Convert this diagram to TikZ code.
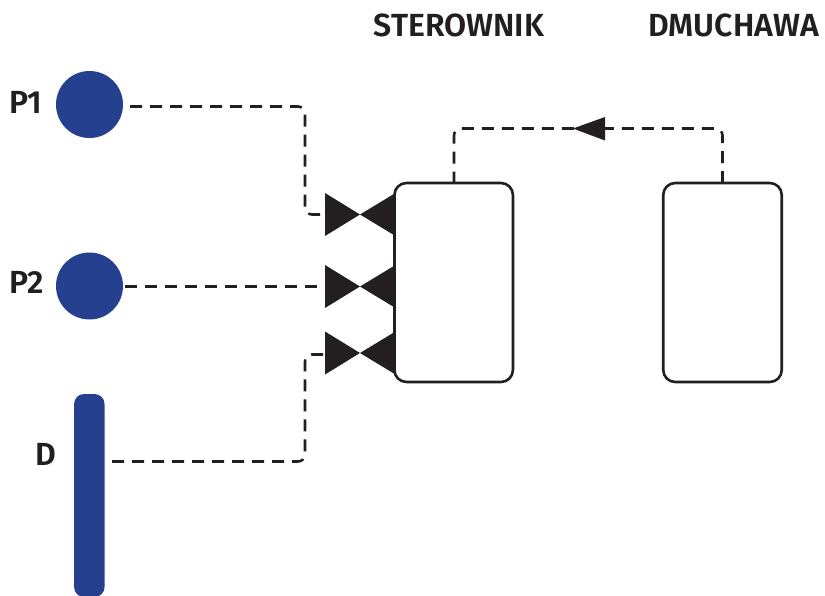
\documentclass[tikz,border=0pt]{standalone}
\usepackage{fontspec}
\setmainfont[BoldFont={Fira Sans SemiBold}]{Fira Sans}
\usetikzlibrary{calc}
\definecolor{ink}{HTML}{231F20}
\definecolor{navy}{HTML}{25408F}
\tikzset{
  x=1pt,y=-1pt,
  label text/.style={inner sep=0pt,text=ink,font=\fontsize{32}{36}\selectfont\bfseries,anchor=base},
  sensor/.style={circle,fill=navy,minimum size=67pt,inner sep=0pt},
  unitbox/.style={draw=ink,line width=2.6pt,rounded corners=12pt,minimum width=118.5pt,minimum height=199pt,inner sep=0pt},
  signal/.style={draw=ink,line width=2.6pt,dash pattern=on 12pt off 8pt,rounded corners=7pt},
  valve tri/.style={fill=ink}
}
\begin{document}
\begin{tikzpicture}
\useasboundingbox (0,0) rectangle (825,595);
% sensors
\node[sensor] (p1) at (89.5,104.5) {};
\node[sensor] (p2) at (89.5,286) {};
\begin{scope}
\clip (60,380) rectangle (120,595);
\node[fill=navy,rounded corners=10pt,minimum width=30.5pt,minimum height=203pt,inner sep=0pt] (d) at (89.3,495.5) {};
\end{scope}
% units
\node[unitbox] (ster) at (453.7,282.5) {};
\node[unitbox] (dmuch) at (722.5,282.5) {};
% labels
\node[label text] (lp1) at (26,113.5) {P1};
\node[label text] (lp2) at (27,293) {P2};
\node[label text] (ld) at (45.5,465) {D};
\node[label text] (lster) at (459,36) {STEROWNIK};
\node[label text] (ldmuch) at (733.5,36) {DMUCHAWA};
% valves
\foreach \n/\cy in {a/214.5,b/286.5,c/353}{
  \coordinate (v\n) at (325,\cy);
  \fill[valve tri] (325,\cy-21.5) -- (360,\cy) -- (325,\cy+21.5) -- cycle;
  \fill[valve tri] (395.5,\cy-21.5) -- (360,\cy) -- (395.5,\cy+21.5) -- cycle;
}
% connector ends
\coordinate (s1) at (130,106.5);
\coordinate (s2) at (125,286.5);
\coordinate (s3) at (112,461.5);
\coordinate (t1) at (722.5,183);
\coordinate (t2) at (454,183);
% connectors
\draw[signal] (s1) -- (305,106.5) -- (305,214.5) -- (va);
\draw[signal] (s2) -- (vb);
\draw[signal] (s3) -- (305,461.5) -- (305,354.5) -- (325,354.5);
\draw[signal] (t1) -- (722.5,128.5) -- (454,128.5) -- (t2);
\fill[valve tri] (573,128.5) -- (605,117) -- (605,140.5) -- cycle;
\end{tikzpicture}
\end{document}
